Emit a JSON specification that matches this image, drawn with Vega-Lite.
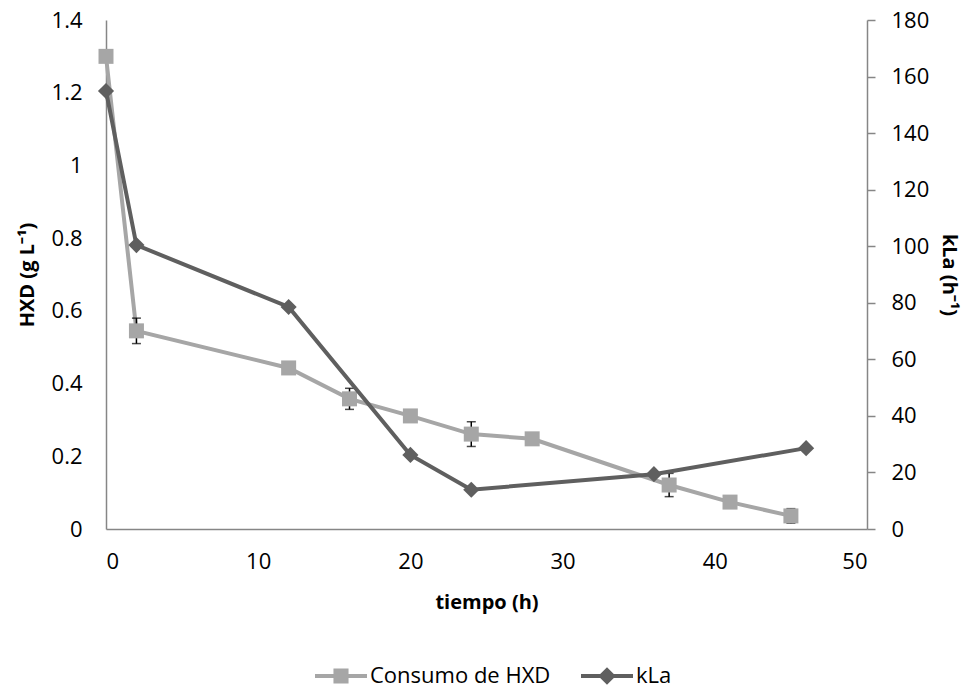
{
  "$schema": "https://vega.github.io/schema/vega-lite/v6.json",
  "width": 761,
  "height": 509,
  "autosize": {"type": "none"},
  "padding": {"left": 106, "top": 20, "right": 105, "bottom": 160},
  "background": "white",
  "config": {
    "view": {"stroke": null},
    "font": "Open Sans",
    "axis": {"grid": false, "domainColor": "#868686", "domainWidth": 1.5, "labelColor": "black", "titleColor": "black", "labelFontSize": 22, "titleFontSize": 20, "titleFontWeight": "bold", "labelFont": "Open Sans", "titleFont": "Open Sans"}
  },
  "datasets": {
    "hxd": [
      {"t": 0, "v": 1.30, "lo": 1.30, "hi": 1.30},
      {"t": 2, "v": 0.545, "lo": 0.51, "hi": 0.58},
      {"t": 12, "v": 0.443, "lo": 0.435, "hi": 0.451},
      {"t": 16, "v": 0.358, "lo": 0.329, "hi": 0.387},
      {"t": 20, "v": 0.311, "lo": 0.305, "hi": 0.317},
      {"t": 24, "v": 0.261, "lo": 0.227, "hi": 0.295},
      {"t": 28, "v": 0.248, "lo": 0.232, "hi": 0.264},
      {"t": 37, "v": 0.121, "lo": 0.089, "hi": 0.153},
      {"t": 41, "v": 0.074, "lo": 0.07, "hi": 0.078},
      {"t": 45, "v": 0.036, "lo": 0.016, "hi": 0.056}
    ],
    "kla": [
      {"t": 0, "k": 154.9},
      {"t": 2, "k": 100.4},
      {"t": 12, "k": 78.5},
      {"t": 20, "k": 26.2},
      {"t": 24, "k": 13.9},
      {"t": 36, "k": 19.4},
      {"t": 46, "k": 28.6}
    ],
    "leg": [
      {"serie": "Consumo de HXD"},
      {"serie": "kLa"}
    ]
  },
  "layer": [
    {
      "layer": [
        {
          "data": {"name": "hxd"},
          "mark": {"type": "line", "color": "#A6A6A6", "strokeWidth": 4},
          "encoding": {
            "x": {"field": "t", "type": "quantitative", "scale": {"domain": [0, 50], "nice": false}, "axis": {"values": [0, 10, 20, 30, 40, 50], "ticks": false, "labelPadding": 22, "title": "tiempo (h)", "titlePadding": 20}},
            "y": {"field": "v", "type": "quantitative", "title": "HXD (g L⁻¹)", "scale": {"domain": [0, 1.4], "nice": false}, "axis": {"orient": "left", "values": [0, 0.2, 0.4, 0.6, 0.8, 1, 1.2, 1.4], "format": "~g", "ticks": false, "labelPadding": 24, "titlePadding": 14}}
          }
        },
        {
          "data": {"name": "hxd"},
          "mark": {"type": "errorbar", "ticks": {"size": 9, "color": "black", "thickness": 1.5}, "color": "black", "thickness": 1.5},
          "encoding": {
            "x": {"field": "t", "type": "quantitative", "title": "tiempo (h)"},
            "y": {"field": "lo", "type": "quantitative", "title": "HXD (g L⁻¹)"},
            "y2": {"field": "hi"}
          }
        },
        {
          "data": {"name": "hxd"},
          "mark": {"type": "square", "color": "#A6A6A6", "size": 225, "opacity": 1},
          "encoding": {
            "x": {"field": "t", "type": "quantitative", "title": "tiempo (h)"},
            "y": {"field": "v", "type": "quantitative", "title": "HXD (g L⁻¹)"}
          }
        },
        {
          "data": {"name": "leg"},
          "transform": [{"filter": "false"}],
          "mark": {"type": "point", "filled": true, "opacity": 1},
          "encoding": {
            "color": {"field": "serie", "type": "nominal", "scale": {"domain": ["Consumo de HXD", "kLa"], "range": ["#A6A6A6", "#5F5F5F"]},
              "legend": {"title": null, "orient": "none", "legendX": 209, "legendY": 630, "direction": "horizontal", "symbolSize": 2704, "symbolOpacity": 1, "symbolStrokeWidth": 0, "labelFontSize": 22, "labelFont": "Open Sans", "labelColor": "black", "labelOffset": 3, "labelLimit": 400, "columnPadding": 30}},
            "shape": {"field": "serie", "type": "nominal", "scale": {"domain": ["Consumo de HXD", "kLa"], "range": ["M-1,-0.077H1V0.077H-1Z M-0.29,-0.29H0.29V0.29H-0.29Z", "M-1,-0.077H1V0.077H-1Z M0,-0.34L0.34,0L0,0.34L-0.34,0Z"]}}
          }
        }
      ]
    },
    {
      "data": {"name": "kla"},
      "layer": [
        {
          "mark": {"type": "line", "color": "#5F5F5F", "strokeWidth": 4},
          "encoding": {
            "x": {"field": "t", "type": "quantitative", "title": "tiempo (h)"},
            "y": {"field": "k", "type": "quantitative", "title": "kLa (h⁻¹)", "scale": {"domain": [0, 180], "nice": false}, "axis": {"orient": "right", "values": [0, 20, 40, 60, 80, 100, 120, 140, 160, 180], "tickSize": 8, "tickColor": "#868686", "tickWidth": 1.5, "labelPadding": 16, "titlePadding": 10}}
          }
        },
        {
          "mark": {"type": "point", "shape": "diamond", "filled": true, "color": "#5F5F5F", "size": 260, "opacity": 1},
          "encoding": {
            "x": {"field": "t", "type": "quantitative", "title": "tiempo (h)"},
            "y": {"field": "k", "type": "quantitative", "title": "kLa (h⁻¹)"}
          }
        }
      ]
    }
  ],
  "resolve": {"scale": {"y": "independent"}}
}
